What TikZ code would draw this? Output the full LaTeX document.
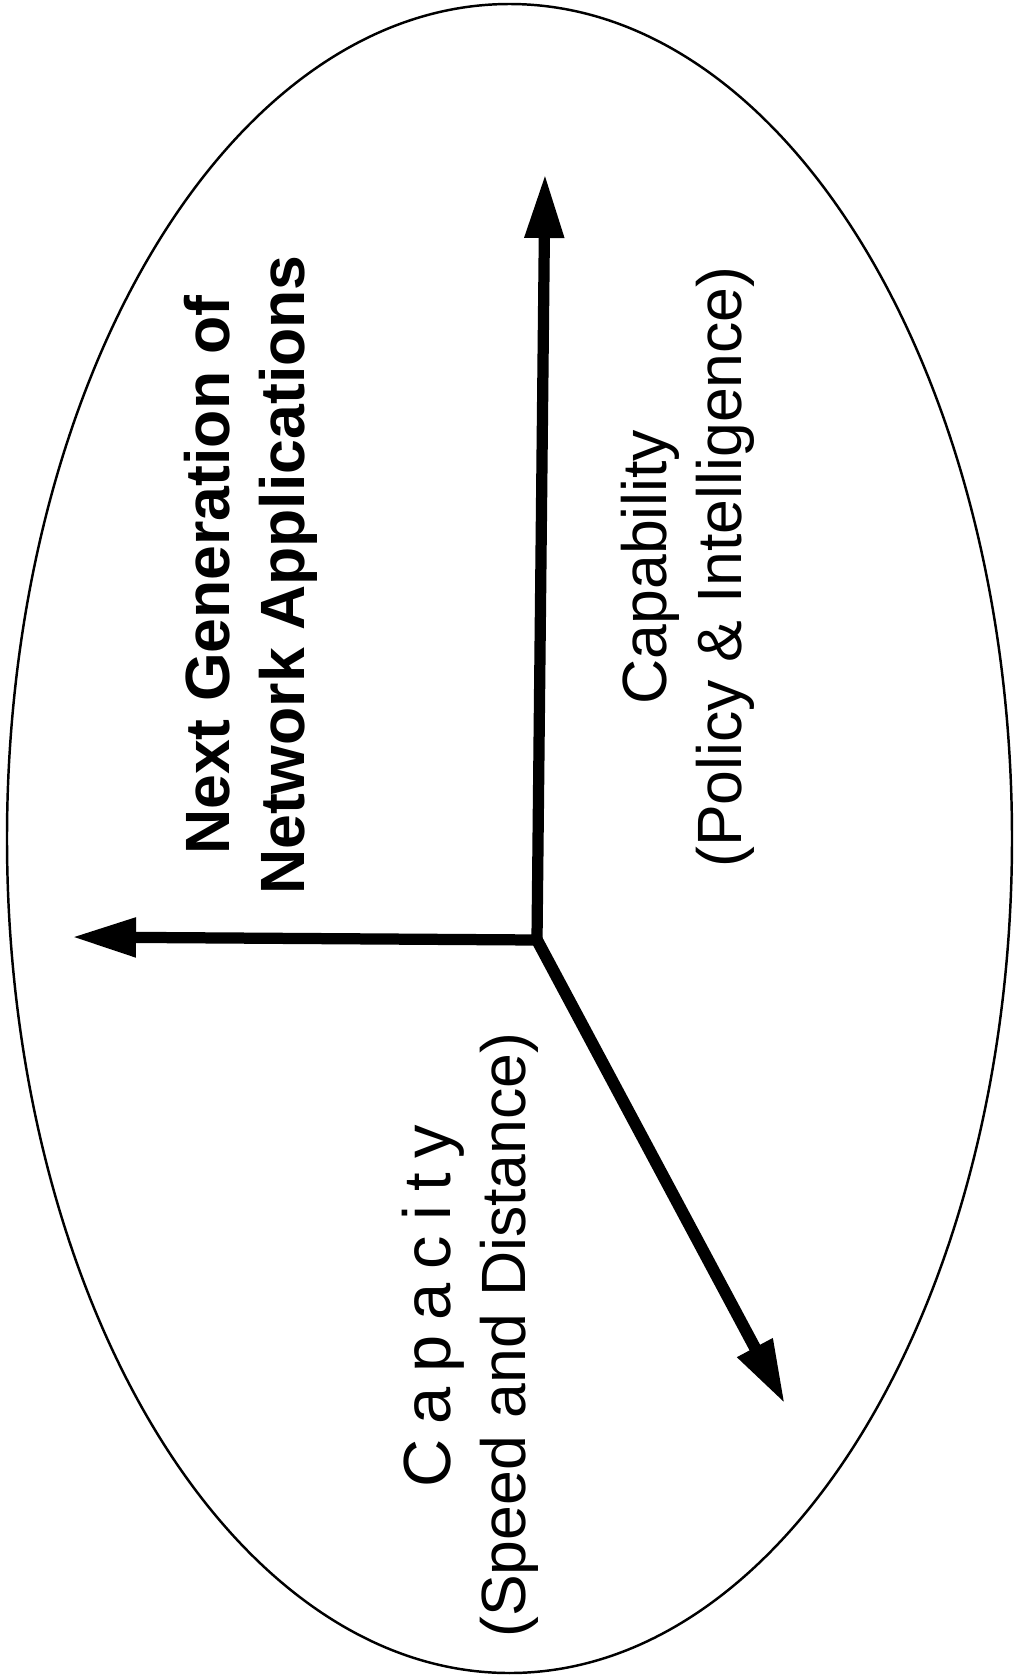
\documentclass[tikz,border=0pt]{standalone}
\usepackage{fontspec}
\setmainfont{Liberation Sans}
\usetikzlibrary{arrows.meta}

\begin{document}
\begin{tikzpicture}[line join=miter,
  axis/.style={line width=3.2pt, {Triangle[length=0.64cm, width=0.37cm]}-{Triangle[length=0.64cm, width=0.37cm]}},
  axisone/.style={line width=3.4pt, -{Triangle[length=0.64cm, width=0.37cm]}},
  axislabel/.style={rotate=90, align=center, inner sep=0pt, font=\fontsize{17.8}{21.3}\selectfont}]

\useasboundingbox (0,0) rectangle (10.2,-16.79);

% Contorno
\draw[line width=0.7pt] (5.095,-8.385) ellipse [x radius=5.025, y radius=8.345];

% Assi
\coordinate (O) at (5.37,-9.40);
\coordinate (up) at (5.45,-1.74);
\coordinate (left) at (0.72,-9.37);
\coordinate (down) at (7.85,-14.04);

\draw[axis] (left) -- (O) -- (up);
\draw[axisone] (O) -- (down);

% Etichette
\node[axislabel, font=\fontsize{17.8}{21.3}\selectfont\bfseries] (title) at (2.51,-5.75) {Next Generation of\\Network Applications};
\node[axislabel] (capability) at (6.88,-5.67) {Capability\\(Policy \& Intelligence)};
\node[axislabel, font=\fontsize{19}{21.3}\selectfont\addfontfeature{LetterSpace=22}] (capacity) at (4.33,-13.06) {Capacity};
\node[axislabel] (capacitysub) at (5.09,-13.35) {(Speed and Distance)};

\end{tikzpicture}
\end{document}
